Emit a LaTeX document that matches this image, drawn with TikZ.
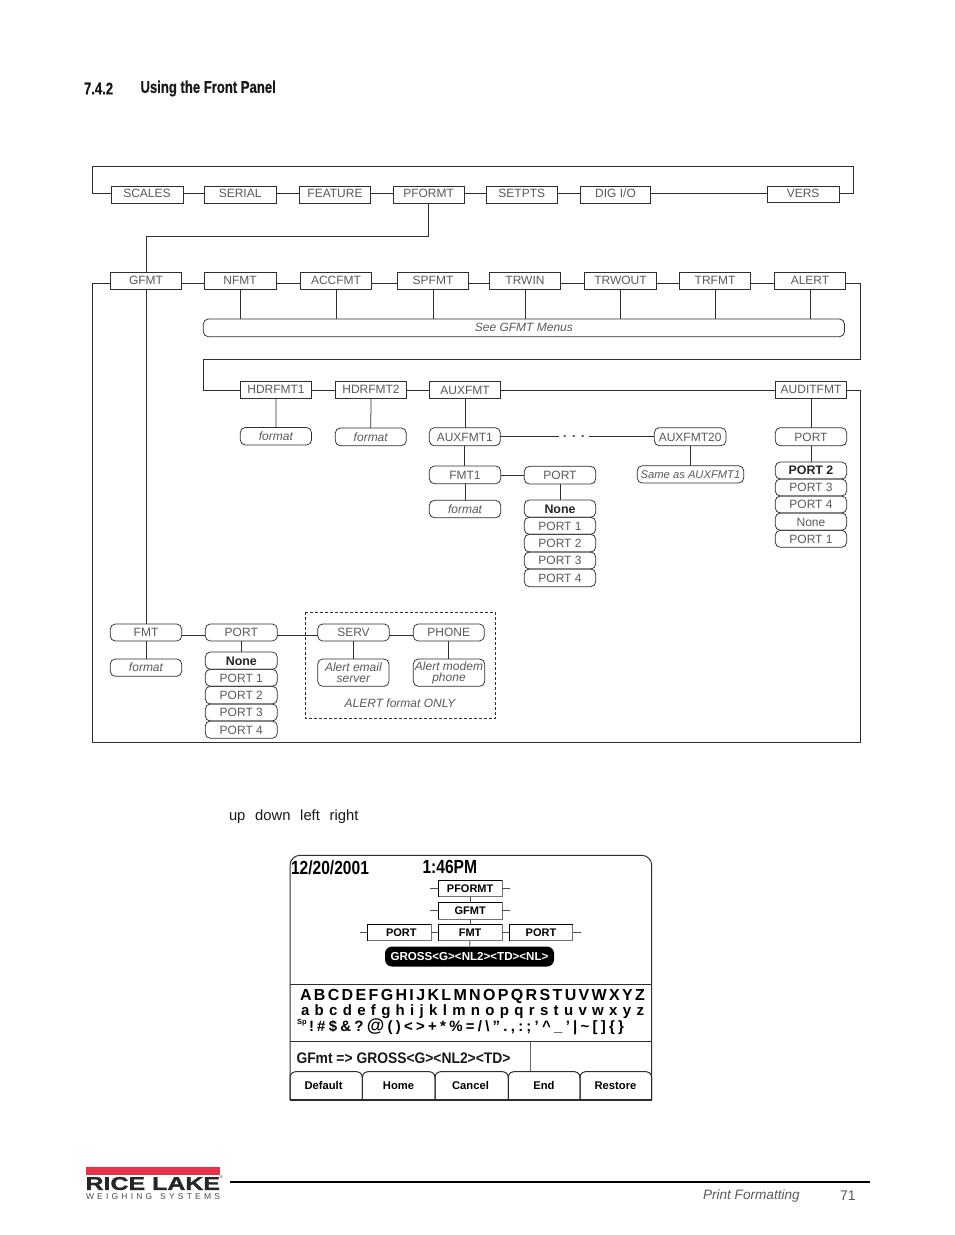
\documentclass[tikz,border=0pt]{standalone}
\usepackage{fontspec}
\setmainfont{Liberation Sans}
\newfontfamily\headfont[FakeStretch=0.77,FakeBold=0.6]{Liberation Sans}
\newfontfamily\datefont[FakeStretch=0.82]{Liberation Sans}
\newfontfamily\semicond[FakeStretch=0.905]{Liberation Sans}
\newfontfamily\widefont[FakeStretch=1.35,FakeBold=1.5]{Liberation Sans}
\definecolor{ln}{HTML}{2E2E2E}
\definecolor{tx}{HTML}{5A5A5A}
\definecolor{rl}{HTML}{E3324A}
\tikzset{
  x=1pt,y=-1pt,
  base/.style={inner sep=0pt,outer sep=0pt,text=tx,font=\fontsize{12}{12}\selectfont,draw=ln,line width=0.75pt},
  tf/.style={text height=8.7pt,text depth=0pt},
  sq/.style={base,text height=8.7pt,text depth=2.2pt},
  rd/.style={base,tf,rounded corners=5pt},
  it/.style={base,rounded corners=5pt,font=\fontsize{12}{11}\selectfont\itshape,align=center},
  bd/.style={rd,text=black!85,font=\fontsize{12.4}{12.4}\selectfont\bfseries},
  conn/.style={draw=ln,line width=0.75pt},
  lcdb/.style={inner sep=0pt,outer sep=0pt,draw=black!55,line width=0.8pt,text=black,font=\fontsize{11}{11}\selectfont\bfseries,text height=8pt,text depth=0pt},
  lab/.style={inner sep=0pt,outer sep=0pt,anchor=center},
  ltab/.style={lab,text=black,font=\fontsize{11.2}{11}\selectfont\bfseries},
}
\newcommand\bxn[7]{\node[#1,minimum width={#5-#3},minimum height={#6-#4}] (#2) at ({(#3+#5)/2},{(#4+#6)/2}) {#7};}
\begin{document}
\begin{tikzpicture}
\useasboundingbox (0,0) rectangle (954,1235);
\fill[white] (0,0) rectangle (954,1235);

\node[lab,anchor=west,font=\fontsize{17}{15}\selectfont\headfont\bfseries,text=black!90] (secnum) at (84,88.5) {7.4.2};
\node[lab,anchor=west,font=\fontsize{17}{15}\selectfont\headfont\bfseries,text=black!90] (sectitle) at (140.5,88.5) {Using the Front Panel};

% row 1
\coordinate (r1) at (0,193.3);
\coordinate (tl) at (92.3,166);
\coordinate (tr) at (853.3,166);
\bxn{sq}{scales}{111}{186}{183}{203.3}{SCALES}
\bxn{sq}{serial}{204.3}{186}{276}{203.3}{SERIAL}
\bxn{sq}{feature}{299.3}{186}{370.7}{203.3}{FEATURE}
\bxn{sq}{pformt}{393.3}{186}{464}{203.3}{PFORMT}
\bxn{sq}{setpts}{486.3}{186}{557.3}{203.3}{SETPTS}
\bxn{sq}{digio}{580.3}{186}{650.7}{203.3}{DIG I/O}
\bxn{sq}{vers}{767.3}{186}{839}{202.3}{VERS}
\foreach \a/\b in {scales/serial,serial/feature,feature/pformt,pformt/setpts,setpts/digio,digio/vers}
  \draw[conn] (\a.east |- r1) -- (\b.west |- r1);
\draw[conn] (scales.west |- r1) -- (tl |- r1) -- (tl) -- (tr) -- (tr |- r1) -- (vers.east |- r1);

% row 2
\coordinate (r2) at (0,283.2);
\bxn{sq}{gfmt}{110.3}{272.3}{181.7}{289.3}{GFMT}
\bxn{sq}{nfmt}{204.3}{272.3}{276}{289.3}{NFMT}
\bxn{sq}{accfmt}{300.3}{272.3}{371.7}{289.3}{ACCFMT}
\bxn{sq}{spfmt}{397.3}{272.3}{468.7}{289.3}{SPFMT}
\bxn{sq}{trwin}{489.3}{272.3}{560.7}{289.3}{TRWIN}
\bxn{sq}{trwout}{584.3}{272.3}{656.7}{289.3}{TRWOUT}
\bxn{sq}{trfmt}{679.3}{272.3}{750.7}{289.3}{TRFMT}
\bxn{sq}{alert}{774.3}{272.3}{845.7}{289.3}{ALERT}
\foreach \a/\b in {gfmt/nfmt,nfmt/accfmt,accfmt/spfmt,spfmt/trwin,trwin/trwout,trwout/trfmt,trfmt/alert}
  \draw[conn] (\a.east |- r2) -- (\b.west |- r2);
\coordinate (bend) at (0,236);
\draw[conn] (pformt.south) -- (pformt.south |- bend) -- (gfmt.north |- bend) -- (gfmt.north);
\bxn{it}{see}{203.3}{319}{844.5}{336.7}{See GFMT Menus}
\foreach \a in {nfmt,accfmt,spfmt,trwin,trwout,trfmt,alert}
  \draw[conn] (\a.south) -- (\a.south |- see.north);

% row 3
\coordinate (r3) at (0,390.4);
\bxn{sq}{hdr1}{240.3}{381.3}{311.7}{398.3}{HDRFMT1}
\bxn{sq}{hdr2}{335.3}{381.3}{406.7}{398.3}{HDRFMT2}
\bxn{sq,text depth=0pt}{aux}{429.3}{381.3}{500.7}{398.3}{AUXFMT}
\bxn{sq}{audit}{775.3}{381.3}{846.7}{398.3}{AUDITFMT}
\foreach \a/\b in {hdr1/hdr2,hdr2/aux,aux/audit}
  \draw[conn] (\a.east |- r3) -- (\b.west |- r3);
\coordinate (wr) at (860.5,0);
\coordinate (wl) at (92.3,0);
\draw[conn] (alert.east |- r2) -- (wr |- r2) -- (860.5,359.5) -- (203.3,359.5) -- (203.3,390.4) -- (hdr1.west |- r3);
\draw[conn] (audit.east |- r3) -- (wr |- r3) -- (860.5,742.3) -- (92.3,742.3) -- (wl |- r2) -- (gfmt.west |- r2);

\bxn{it}{f1}{240.3}{427.5}{311.5}{445}{format}
\bxn{it}{f2}{335.3}{428}{406.2}{445.7}{format}
\bxn{rd}{aux1}{429.3}{427.7}{500.3}{445.7}{AUXFMT1}
\bxn{rd}{fmt1}{429.3}{466}{500.7}{483.7}{FMT1}
\bxn{it}{f3}{429.3}{500.3}{500.7}{517.7}{format}
\draw[conn] (hdr1) -- (f1);
\draw[conn] (hdr2) -- (f2);
\draw[conn] (aux.south) -- (aux.south |- aux1.north);
\draw[conn] (aux1.south) -- (aux1.south |- fmt1.north);
\draw[conn] (fmt1) -- (f3);

\bxn{rd}{pa}{524.3}{466.3}{595.7}{484}{PORT}
\draw[conn] (fmt1.east |- 0,475) -- (pa.west |- 0,475);
\bxn{bd}{pa0}{524.3}{500}{595.7}{517.3}{None}
\bxn{rd}{pa1}{524.3}{517.3}{595.7}{534.3}{PORT 1}
\bxn{rd}{pa2}{524.3}{534.3}{595.7}{552}{PORT 2}
\bxn{rd}{pa3}{524.3}{552}{595.7}{569}{PORT 3}
\bxn{rd}{pa4}{524.3}{569}{595.7}{586.7}{PORT 4}
\draw[conn] (pa) -- (pa0);

\bxn{rd}{aux20}{654.3}{427.7}{726}{445.7}{AUXFMT20}
\bxn{it}{same}{637.3}{465.7}{743.7}{483}{\fontsize{11.2}{11}\selectfont Same as AUXFMT1}
\draw[conn] (aux20.south -| same.north) -- (same.north);
\node[lab,minimum width=30pt,text=tx,font=\fontsize{14}{13}\selectfont\itshape\bfseries] (dots) at (574.3,436) {. . .};
\draw[conn] (aux1.east |- 0,436.7) -- (dots.west |- 0,436.7);
\draw[conn] (dots.east |- 0,436.7) -- (aux20.west |- 0,436.7);

\bxn{rd}{pb}{775.3}{427.7}{846.7}{445.7}{PORT}
\draw[conn] (audit) -- (pb);
\bxn{bd}{pb0}{775.3}{462}{846.7}{479}{PORT 2}
\bxn{rd}{pb1}{775.3}{479}{846.7}{496}{PORT 3}
\bxn{rd}{pb2}{775.3}{496}{846.7}{513}{PORT 4}
\bxn{rd}{pb3}{775.3}{513}{846.7}{530.3}{None}
\bxn{rd}{pb4}{775.3}{530.3}{846.7}{547.3}{PORT 1}
\draw[conn] (pb) -- (pb0);

% bottom group
\coordinate (r4) at (0,635);
\bxn{rd}{fmt}{110.3}{624}{181.7}{641}{FMT}
\bxn{it}{f4}{110.3}{659}{181.7}{676.3}{format}
\draw[conn] (gfmt.south) -- (gfmt.south |- fmt.north);
\draw[conn] (fmt) -- (f4);
\bxn{rd}{pc}{205.3}{624}{277.3}{641}{PORT}
\bxn{bd}{pc0}{205.3}{652}{277.3}{669.3}{None}
\bxn{rd}{pc1}{205.3}{669.3}{277.3}{686.3}{PORT 1}
\bxn{rd}{pc2}{205.3}{686.3}{277.3}{704}{PORT 2}
\bxn{rd}{pc3}{205.3}{704}{277.3}{721}{PORT 3}
\bxn{rd}{pc4}{205.3}{721}{277.3}{738.3}{PORT 4}
\draw[conn] (pc) -- (pc0);
\bxn{rd}{serv}{317.7}{624}{389.3}{641}{SERV}
\bxn{rd}{phone}{413.3}{624}{484.3}{641}{PHONE}
\bxn{it}{ae}{317.7}{659}{389}{686.3}{Alert email\\server}
\bxn{it}{am}{413.3}{659}{484.7}{686.3}{Alert modem\\phone}
\foreach \a/\b in {fmt/pc,pc/serv,serv/phone}
  \draw[conn] (\a.east |- r4) -- (\b.west |- r4);
\draw[conn] (serv.south) -- (serv.south |- ae.north);
\draw[conn] (phone.south) -- (phone.south |- am.north);
\draw[conn,densely dashed,line width=0.7pt] (305.3,612.3) rectangle (495.7,718.3);
\node[lab,text=tx,font=\fontsize{12}{12}\selectfont\itshape] (only) at (400,703.5) {ALERT format ONLY};

\node[lab,anchor=west,text=black!90,font=\fontsize{14.8}{14}\selectfont] (keys) at (229,817) {up\hspace{9.7pt}down\hspace{9.7pt}left\hspace{9.7pt}right};

% LCD
\draw[draw=ln,line width=1pt,rounded corners=10pt] (290,1100) -- (290,855.3) -- (651.7,855.3) -- (651.7,1100);
\draw[draw=ln,line width=1pt] (290,984.3) -- (651.7,984.3);
\draw[draw=ln,line width=1pt] (290,1041.7) -- (651.7,1041.7);
\draw[draw=black!60,line width=1pt] (530,1041.7) -- (530,1071.5);
\node[lab,anchor=west,font=\fontsize{19}{17}\selectfont\datefont\bfseries,text=black] (date) at (291,867.3) {12/20/2001};
\node[lab,anchor=west,font=\fontsize{19}{17}\selectfont\datefont\bfseries,text=black] (clock) at (422.5,867.3) {1:46PM};
\bxn{lcdb}{lp}{438.3}{880.5}{502}{896.7}{PFORMT}
\bxn{lcdb}{lg}{438.3}{902.7}{502}{919}{GFMT}
\bxn{lcdb}{lf}{438.3}{924.3}{502}{940.7}{FMT}
\bxn{lcdb}{ll}{367.3}{924.3}{431.3}{940.7}{\hspace{4pt}PORT}
\bxn{lcdb}{lr}{509.3}{924.3}{572.7}{940.7}{PORT}
\foreach \n in {lp,lg,lf,ll,lr}
  \draw[black,line width=1.1pt] (\n.south west) -- (\n.north west) -- (\n.north east);
\node[fill=black,text=white,rounded corners=7pt,inner sep=0pt,outer sep=0pt,minimum width=169pt,minimum height=20pt,font=\fontsize{11.6}{11}\selectfont\bfseries] (lb) at (469.5,956.5) {GROSS<G><NL2><TD><NL>};
\foreach \a/\b in {lp/lg,lg/lf,lf/lb}
  \draw[draw=black!70,line width=0.8pt] (\a) -- (\b);
\foreach \n/\yy in {lp/888.7,lg/910.8}{
  \draw[draw=black!70,line width=0.8pt] (\n.west |- 0,\yy) -- ++(-8,0);
  \draw[draw=black!70,line width=0.8pt] (\n.east |- 0,\yy) -- ++(8,0);
}
\draw[draw=black!70,line width=0.8pt] (ll.west |- 0,932.5) -- ++(-7.5,0);
\draw[draw=black!70,line width=0.8pt] (ll.east |- 0,932.5) -- (lf.west |- 0,932.5);
\draw[draw=black!70,line width=0.8pt] (lf.east |- 0,932.5) -- (lr.west |- 0,932.5);
\draw[draw=black!70,line width=0.8pt] (lr.east |- 0,932.5) -- ++(8,0);

\node[lab,anchor=west,text=black,font=\fontsize{16}{15}\selectfont\bfseries] (rowa) at (300,996.3) {\makebox[345pt][s]{A\hfill B\hfill C\hfill D\hfill E\hfill F\hfill G\hfill H\hfill I\hfill J\hfill K\hfill L\hfill M\hfill N\hfill O\hfill P\hfill Q\hfill R\hfill S\hfill T\hfill U\hfill V\hfill W\hfill X\hfill Y\hfill Z}};
\node[lab,anchor=west,text=black,font=\fontsize{15}{14}\selectfont\bfseries] (rowb) at (301,1012) {\makebox[343pt][s]{a\hfill b\hfill c\hfill d\hfill e\hfill f\hfill g\hfill h\hfill i\hfill j\hfill k\hfill l\hfill m\hfill n\hfill o\hfill p\hfill q\hfill r\hfill s\hfill t\hfill u\hfill v\hfill w\hfill x\hfill y\hfill z}};
\node[lab,anchor=west,text=black,font=\fontsize{7.5}{7}\selectfont\bfseries] (rowsp) at (297,1023) {Sp};
\node[lab,anchor=west,text=black,font=\fontsize{15}{14}\selectfont\bfseries] (rowc) at (309,1026.3) {\makebox[315pt][s]{!\hfill \#\hfill \$\hfill \&\hfill ?\hfill {\fontsize{18}{14}\selectfont @}\hfill (\hfill )\hfill <\hfill >\hfill +\hfill *\hfill \%\hfill =\hfill /\hfill \textbackslash\hfill ”\hfill .\hfill ,\hfill :\hfill ;\hfill ’\hfill \textasciicircum\hfill \_\hfill ’\hfill |\hfill \textasciitilde\hfill [\hfill ]\hfill \{\hfill \}}};
\node[lab,anchor=west,text=black!90,font=\fontsize{15.3}{15}\selectfont\semicond\bfseries] (gline) at (296.5,1058) {GFmt => GROSS<G><NL2><TD>};

\foreach \xa/\xb in {290/362.3,362.3/435,435/508.3,508.3/580,580/651.7}
  \draw[draw=ln,line width=1pt] (\xa,1100) -- (\xa,1078) .. controls (\xa,1073) and (\xa+3,1071.5) .. (\xa+8,1071.5) -- (\xb-8,1071.5) .. controls (\xb-3,1071.5) and (\xb,1073) .. (\xb,1078) -- (\xb,1100);
\draw[draw=ln,line width=1.1pt] (290,1100) -- (651.7,1100);
\node[ltab] (t1) at (323.5,1085.5) {Default};
\node[ltab] (t2) at (398.5,1085.5) {Home};
\node[ltab] (t3) at (470.5,1085.5) {Cancel};
\node[ltab] (t4) at (544,1085.5) {End};
\node[ltab] (t5) at (615.5,1085.5) {Restore};

% footer
\fill[rl] (86,1167.3) rectangle (219.5,1175);
\node[lab,anchor=west,text=black!85,font=\fontsize{18.5}{18}\selectfont\widefont\bfseries] (logo) at (85.5,1183.5) {RICE LAKE};
\node[lab,anchor=west,text=black!85,font=\fontsize{4}{4}\selectfont] (logor) at (219.5,1177.5) {®};
\node[lab,anchor=west,text=black!70,font=\fontsize{8.5}{8}\selectfont] (logob) at (86,1196.7) {\makebox[134pt][s]{W\hfill E\hfill I\hfill G\hfill H\hfill I\hfill N\hfill G\hspace{8pt}S\hfill Y\hfill S\hfill T\hfill E\hfill M\hfill S}};
\draw[black,line width=2pt] (230,1181.7) -- (870,1181.7);
\node[lab,anchor=west,text=tx,font=\fontsize{13.6}{14}\selectfont\itshape] (pf) at (703,1195.5) {Print Formatting};
\node[lab,anchor=west,text=tx,font=\fontsize{14}{13}\selectfont] (pn) at (840,1195.5) {71};
\end{tikzpicture}
\end{document}
